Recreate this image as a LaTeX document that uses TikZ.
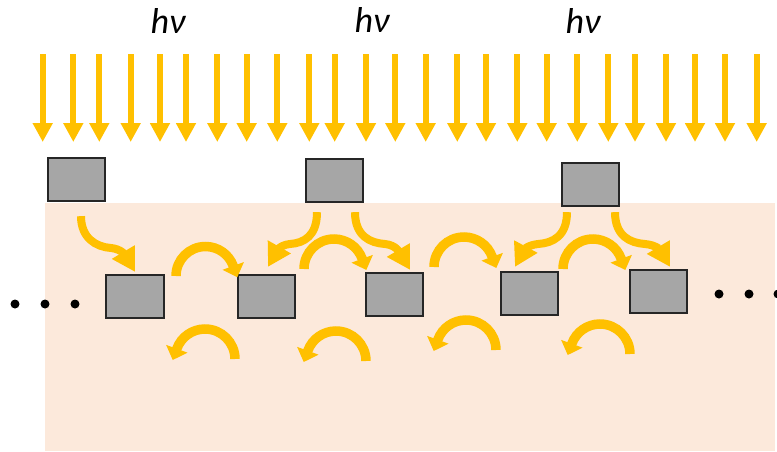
\documentclass[tikz,border=0pt]{standalone}
\usepackage{fontspec}
\setmainfont{Carlito}
\usetikzlibrary{arrows.meta,calc}
\definecolor{gold}{RGB}{255,192,0}
\definecolor{peach}{RGB}{252,233,219}
\definecolor{boxgray}{RGB}{166,166,166}
\definecolor{boxline}{RGB}{38,38,38}
\begin{document}
\begin{tikzpicture}[x=1pt,y=-1pt,
  photon/.style={gold, line width=6pt, -{Triangle[width=19pt,length=19pt]}},
  hop/.style={gold, line width=9.5pt, -{Triangle[width=22pt,length=12pt]}},
  drop/.style={gold, line width=8pt, -{Triangle[width=25pt,length=23pt]}},
  cell/.style={draw=boxline, line width=1.8pt, fill=boxgray, minimum width=57.5pt, minimum height=43.5pt, inner sep=0pt},
  dot/.style={circle, fill=black, inner sep=0pt, minimum size=9pt},
  lbl/.style={font=\fontsize{36}{36}\selectfont\itshape, inner sep=0pt, anchor=base}]
\useasboundingbox (0,0) rectangle (777,451);
\fill[peach] (45,203) rectangle (775,451);

% photons
\foreach \x [count=\i] in {42.7,73.3,99.3,130.7,160,186,217.3,246.7,277.3,309.3,334.7,366,395.3,425.7,457.3,486,517.3,546.7,577.3,608.3,635,666,695,725,756.7}
  \coordinate (p\i) at (\x,54);
\foreach \i in {1,...,25}
  \draw[photon] (p\i) -- ($(p\i)+(0,88)$);

\node[lbl] (hv1) at (168,33) {hν};
\node[lbl] (hv2) at (372,32) {hν};
\node[lbl] (hv3) at (583,33) {hν};

% cells
\node[cell] (t1) at (76.5,179.5) {};
\node[cell] (t2) at (334.5,180.5) {};
\node[cell] (t3) at (590.5,184.5) {};
\node[cell] (b1) at (135,296.5) {};
\node[cell] (b2) at (266.5,296.5) {};
\node[cell] (b3) at (394.5,294.5) {};
\node[cell] (b4) at (529.5,293.5) {};
\node[cell] (b5) at (658.5,291.5) {};

% dots
\node[dot] (l1) at (15,304) {};
\node[dot] (l2) at (45,304) {};
\node[dot] (l3) at (75,304) {};
\node[dot] (r1) at (719,294) {};
\node[dot] (r2) at (749,294) {};
\node[dot] (r3) at (778,294) {};

% drops from top cells to bottom cells
\draw[drop] ($(t1.south)+(4.5,14)$) .. controls (81,238) and (96,247) .. (111,248)
  .. controls (121,249) and (125,255) .. ($(b1.north)+(0,-2)$);
\draw[drop] ($(t2.south)+(-17.5,9)$) .. controls (317,236) and (304,243) .. (290,244)
  .. controls (280,245) and (277,251) .. ($(b2.north)+(1.5,-7)$);
\draw[drop] ($(t2.south)+(20.5,9)$) .. controls (355,236) and (370,243) .. (385,244)
  .. controls (396,245) and (400,253) .. ($(b3.north)+(15.5,-2)$);
\draw[drop] ($(t3.south)+(-23.5,5)$) .. controls (567,236) and (553,243) .. (538,244)
  .. controls (528,245) and (524,250) .. ($(b4.north)+(-14.5,-4)$);
\draw[drop] ($(t3.south)+(24.5,5)$) .. controls (615,236) and (630,243) .. (645,244)
  .. controls (656,245) and (660,250) .. ($(b5.north)+(11.5,-2)$);

% hops above (left foot, arc over the top, head down-right)
\draw[hop] (176,276) arc[start angle=180,end angle=340,radius=29.5] -- ++(4.1,11.3);
\draw[hop] (304,269) arc[start angle=180,end angle=340,radius=30] -- ++(4.1,11.3);
\draw[hop] (434,267) arc[start angle=180,end angle=340,radius=30] -- ++(4.1,11.3);
\draw[hop] (563,269) arc[start angle=180,end angle=340,radius=30] -- ++(4.1,11.3);
% hops below (right foot, arc over the top, head down-left)
\draw[hop] (235,359) arc[start angle=0,end angle=-160,radius=30] -- ++(-4.1,11.3);
\draw[hop] (366,361) arc[start angle=0,end angle=-160,radius=30] -- ++(-4.1,11.3);
\draw[hop] (496,350) arc[start angle=0,end angle=-160,radius=30] -- ++(-4.1,11.3);
\draw[hop] (630,354) arc[start angle=0,end angle=-160,radius=30] -- ++(-4.1,11.3);
\end{tikzpicture}
\end{document}
